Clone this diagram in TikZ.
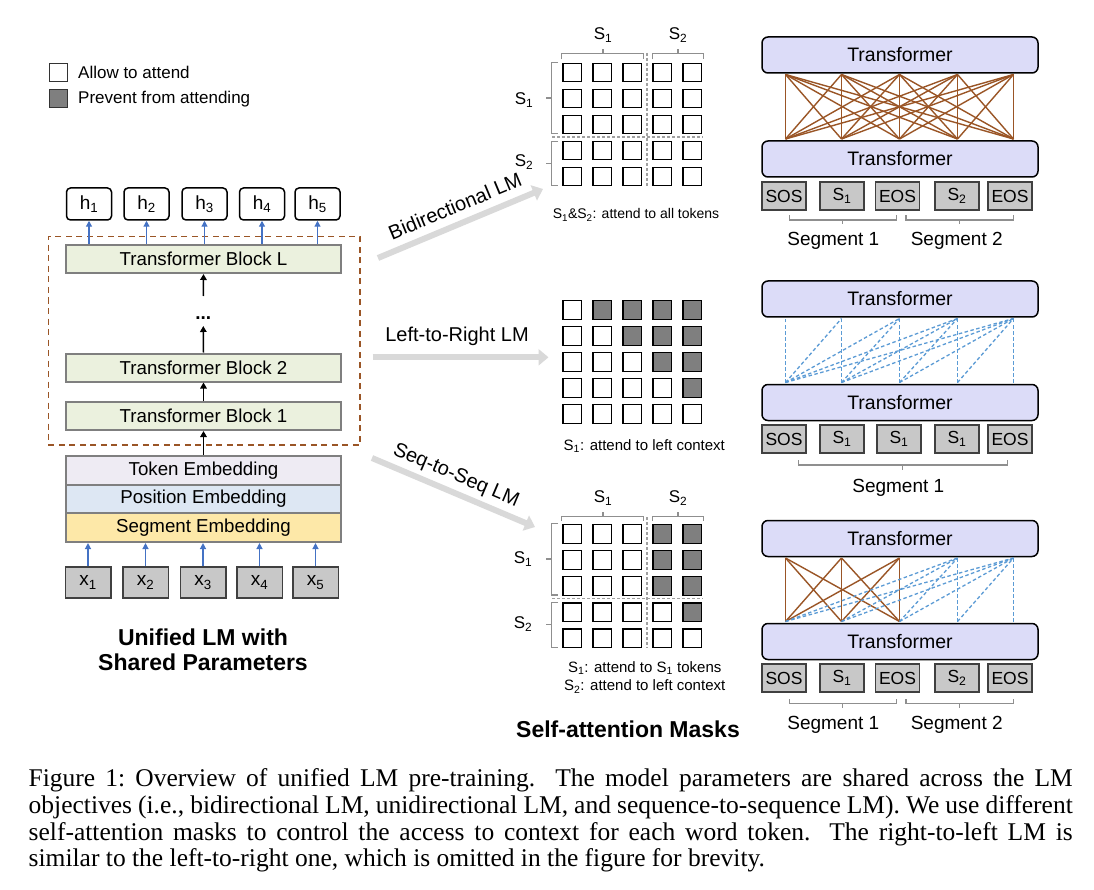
\documentclass[tikz,border=0pt]{standalone}
\usepackage{fontspec}
\setmainfont{Liberation Sans}
\newfontfamily\capfont{Liberation Serif}
\usetikzlibrary{arrows.meta}
\newcommand\fsz[2]{\fontsize{#1}{#2}\selectfont}
\newcommand\sbs[1]{\textsubscript{#1}}
\definecolor{blkfill}{HTML}{EBF1DE}
\definecolor{blkborder}{HTML}{7F7F7F}
\definecolor{tokfill}{HTML}{EEEBF3}
\definecolor{posfill}{HTML}{DDE7F3}
\definecolor{segfill}{HTML}{FDE8A8}
\definecolor{xfill}{HTML}{C8C8C8}
\definecolor{xborder}{HTML}{404040}
\definecolor{tfill}{HTML}{DCDCF8}
\definecolor{brn}{HTML}{9A5526}
\definecolor{bld}{HTML}{5B9BD5}
\definecolor{arrblue}{HTML}{4472C4}
\definecolor{biggray}{HTML}{D9D9D9}
\definecolor{brkgray}{HTML}{8F8F8F}
\definecolor{maskgray}{HTML}{7F7F7F}
\definecolor{sepgray}{HTML}{A0A0A0}
\begin{document}
\begin{tikzpicture}[x=1pt,y=-1pt,
  lsq/.style={draw=black!80, line width=1.2pt, minimum size=18pt, inner sep=0pt},
  txt/.style={inner sep=0pt},
  hbox/.style={draw=black, line width=1.5pt, rounded corners=4pt, minimum width=45pt, minimum height=32pt, inner sep=0pt, font=\fsz{19}{22}},
  xbox/.style={draw=xborder, line width=1.5pt, fill=xfill, minimum width=45.5pt, minimum height=31pt, inner sep=0pt, font=\fsz{19}{22}},
  blk/.style={draw=blkborder, line width=2pt, fill=blkfill, minimum width=275pt, minimum height=28pt, inner sep=0pt, font=\fsz{18.7}{22}},
  emb/.style={draw=blkborder, line width=2pt, minimum width=275pt, minimum height=28.7pt, inner sep=0pt, font=\fsz{18.7}{22}},
  bluearr/.style={draw=arrblue, line width=1.3pt, -{Triangle[length=6pt,width=6pt]}},
  blkarr/.style={draw=black, line width=1.5pt, -{Triangle[length=6pt,width=6.5pt]}},
  frame/.style={draw=brn, line width=1.6pt, dash pattern=on 6pt off 4.5pt},
  bigarr/.style={draw=biggray, line width=6pt, -{Triangle[length=10pt,width=16pt]}},
  albl/.style={inner sep=0pt, font=\fsz{20}{24}},
  cell/.style={draw=black, line width=1.3pt, fill=white, minimum size=18.4pt, inner sep=0pt},
  brk/.style={draw=brkgray, line width=1.3pt},
  sep/.style={draw=sepgray, line width=1.2pt, dash pattern=on 3pt off 2pt},
  slbl/.style={inner sep=0pt, font=\fsz{17}{20}},
  mcap/.style={inner sep=0pt, font=\fsz{15}{18}},
  tbox/.style={draw=black, line width=1.5pt, fill=tfill, rounded corners=6pt, minimum width=276pt, minimum height=36pt, inner sep=0pt, font=\fsz{19.5}{23}},
  tok/.style={draw=xborder, line width=1.5pt, fill=xfill, minimum width=44pt, minimum height=28pt, inner sep=0pt, font=\fsz{17.5}{20}},
  brnl/.style={draw=brn, line width=1.4pt},
  bldl/.style={draw=bld, line width=1.3pt, dash pattern=on 3.5pt off 2.5pt},
  seglbl/.style={inner sep=0pt, font=\fsz{19}{22}},
  ttl/.style={inner sep=0pt, font=\bfseries\fsz{23}{25}, align=center}
]
\path[use as bounding box, fill=white] (0,0) rectangle (1094,890);

% ---------------- legend
\node[lsq, fill=white] (lgA) at (58.5,72.5) {};
\node[txt, anchor=west, font=\fsz{17}{20}] (lgAt) at (78,72.5) {Allow to attend};
\node[lsq, fill=maskgray] (lgB) at (58.5,98.5) {};
\node[txt, anchor=west, font=\fsz{17}{20}] (lgBt) at (78,99.5) {Prevent from attending};

% ---------------- left panel
\node[frame, minimum width=311.7pt, minimum height=208.3pt, inner sep=0pt] (fr) at (204.15,340.85) {};
\foreach \k/\xx in {1/89,2/146.5,3/204.5,4/262,5/317.5}
  \node[hbox] (h\k) at (\xx,204) {h\sbs{\k}};
\node[blk] (bL) at (203.5,259) {Transformer Block L};
\node[blk] (b2) at (203.5,367.5) {Transformer Block 2};
\node[blk] (b1) at (203.5,416) {Transformer Block 1};
\node[txt, font=\bfseries\fsz{19}{22}] (dots) at (203.3,318) {...};
\coordinate (dA) at (203.3,326);
\coordinate (dB) at (203.3,296);
\node[emb, fill=tokfill] (eT) at (203.5,470.3) {Token Embedding};
\node[emb, fill=posfill] (eP) at (203.5,499) {Position Embedding};
\node[emb, fill=segfill] (eS) at (203.5,527.7) {Segment Embedding};
\node[draw=blkborder, line width=2pt, minimum width=275pt, minimum height=86.1pt, inner sep=0pt] (eAll) at (203.5,499) {};
\foreach \k/\xx in {1/88,2/145.5,3/203,4/259.5,5/315.5}
  \node[xbox] (x\k) at (\xx,582.5) {x\sbs{\k}};
\foreach \k in {1,...,5} {
  \draw[bluearr] (x\k.north) -- (x\k.north |- eAll.south);
  \draw[bluearr] (h\k.south |- bL.north) -- (h\k.south);
}
\draw[blkarr] (eAll.north) -- (b1.south);
\draw[blkarr] (b1.north) -- (b2.south);
\draw[blkarr] (b2.north) -- (dA);
\draw[blkarr] (dB) -- (bL.south);
\node[ttl] (t1) at (203,649.5) {Unified LM with\\Shared Parameters};

% ---------------- big gray arrows
\coordinate (aBs) at (378,258);
\coordinate (aBe) at (543,189);
\coordinate (aLs) at (372.5,357.3);
\coordinate (aLe) at (548.5,357.3);
\coordinate (aSs) at (372,458);
\coordinate (aSe) at (535,527);
\draw[bigarr] (aBs) -- (aBe);
\draw[bigarr] (aLs) -- (aLe);
\draw[bigarr] (aSs) -- (aSe);
\node[albl, rotate=22.7] (lbB) at (455,206) {Bidirectional LM};
\node[albl] (lbL) at (457,336.7) {Left-to-Right LM};
\node[albl, rotate=-23] (lbS) at (456,476) {Seq-to-Seq LM};

% ---------------- mask 1 (bidirectional)
\draw[sep] (647,53) -- (647,186);
\draw[sep] (552,137) -- (703.3,137);
\foreach \i/\yy in {1/72.5,2/98.5,3/124.5,4/150.5,5/176.5}
  \foreach \j/\xx in {1/572.3,2/602.3,3/632.3,4/662.3,5/692.3}
    \node[cell] (ga\i\j) at (\xx,\yy) {};
\draw[brk] (561.7,59.3) -- (561.7,53.3) -- (643.3,53.3) -- (643.3,59.3);
\draw[brk] (603,53.3) -- (603,49);
\draw[brk] (652.7,59.3) -- (652.7,53.3) -- (703.3,53.3) -- (703.3,59.3);
\draw[brk] (678,53.3) -- (678,49);
\draw[brk] (558,62.7) -- (551.7,62.7) -- (551.7,133.3) -- (558,133.3);
\draw[brk] (551.7,98) -- (546,98);
\draw[brk] (558,141.7) -- (551.7,141.7) -- (551.7,185.7) -- (558,185.7);
\draw[brk] (551.7,163.7) -- (546,163.7);
\node[slbl] (ma1) at (603,35) {S\sbs{1}};
\node[slbl] (ma2) at (678,35) {S\sbs{2}};
\node[slbl] (ma3) at (524,100) {S\sbs{1}};
\node[slbl] (ma4) at (524,162) {S\sbs{2}};
\node[mcap, font=\fsz{14}{17}] (mac) at (636,215) {S\sbs{1}\&S\sbs{2}: attend to all tokens};

% ---------------- mask 2 (left-to-right)
\foreach \i/\yy in {1/310,2/336,3/362,4/388,5/414}
  \foreach \j/\xx in {1/572.3,2/602.3,3/632.3,4/662.3,5/692.3}
    {\ifnum\j>\i
       \node[cell, fill=maskgray] (gb\i\j) at (\xx,\yy) {};
     \else
       \node[cell] (gb\i\j) at (\xx,\yy) {};
     \fi}
\node[mcap] (mbc) at (644.3,445.7) {S\sbs{1}: attend to left context};

% ---------------- mask 3 (seq-to-seq)
\draw[sep] (647,517) -- (647,647.5);
\draw[sep] (552,598.5) -- (703.3,598.5);
\foreach \i/\yy in {1/534,2/560,3/586,4/612.3,5/638.3}
  \foreach \j/\xx in {1/572.3,2/602.3,3/632.3,4/662.3,5/692.3}
    {\pgfmathtruncatemacro\gg{((\i<4) && (\j>3)) || ((\i==4) && (\j==5))}
     \ifnum\gg=1
       \node[cell, fill=maskgray] (gc\i\j) at (\xx,\yy) {};
     \else
       \node[cell] (gc\i\j) at (\xx,\yy) {};
     \fi}
\draw[brk] (561.7,521) -- (561.7,516.7) -- (643.3,516.7) -- (643.3,521);
\draw[brk] (603,516.7) -- (603,511.5);
\draw[brk] (652.7,521) -- (652.7,516.7) -- (703.3,516.7) -- (703.3,521);
\draw[brk] (678,516.7) -- (678,511.5);
\draw[brk] (558,523.3) -- (551.7,523.3) -- (551.7,595) -- (558,595);
\draw[brk] (551.7,559) -- (546,559);
\draw[brk] (558,602.3) -- (551.7,602.3) -- (551.7,647.3) -- (558,647.3);
\draw[brk] (551.7,624.8) -- (546,624.8);
\node[slbl] (mc1) at (603,498) {S\sbs{1}};
\node[slbl] (mc2) at (678,498) {S\sbs{2}};
\node[slbl] (mc3) at (523,559) {S\sbs{1}};
\node[slbl] (mc4) at (523,624) {S\sbs{2}};
\node[mcap] (mcc1) at (644.7,668.3) {S\sbs{1}: attend to S\sbs{1} tokens};
\node[mcap] (mcc2) at (644.7,686.7) {S\sbs{2}: attend to left context};
\node[ttl] (t2) at (628,729.3) {Self-attention Masks};

% ---------------- right panels
\foreach \p/\ty/\by/\tky in {1/55/159/196, 2/299/402.5/439, 3/538.5/641.5/678} {
  \node[tbox] (Tt\p) at (900,\ty) {Transformer};
  \node[tbox] (Tb\p) at (900,\by) {Transformer};
  \foreach \k/\xx in {1/785.5,2/841.5,3/899.5,4/957.5,5/1013.5} {
    \coordinate (u\p\k) at (\xx,\ty+19.5);
    \coordinate (d\p\k) at (\xx,\by-20);
  }
}
% panel 1 tokens
\node[tok] (k11) at (784,196) {SOS};
\node[tok] (k12) at (842,196) {S\sbs{1}};
\node[tok] (k13) at (897.5,196) {EOS};
\node[tok] (k14) at (957,196) {S\sbs{2}};
\node[tok] (k15) at (1010,196) {EOS};
% panel 2 tokens
\node[tok] (k21) at (784,439) {SOS};
\node[tok] (k22) at (842,439) {S\sbs{1}};
\node[tok] (k23) at (899,439) {S\sbs{1}};
\node[tok] (k24) at (957,439) {S\sbs{1}};
\node[tok] (k25) at (1010,439) {EOS};
% panel 3 tokens
\node[tok] (k31) at (784,678) {SOS};
\node[tok] (k32) at (842,678) {S\sbs{1}};
\node[tok] (k33) at (897.5,678) {EOS};
\node[tok] (k34) at (957,678) {S\sbs{2}};
\node[tok] (k35) at (1010,678) {EOS};

% panel 1 connections: all to all
\foreach \i in {1,...,5}
  \foreach \j in {1,...,5}
    \draw[brnl] (d1\i) -- (u1\j);
% panel 2: left to right
\foreach \i in {1,...,5}
  \foreach \j in {1,...,5}
    {\ifnum\j<\i\else \draw[bldl] (d2\i) -- (u2\j);\fi}
% panel 3: seq-to-seq
\foreach \i in {1,2,3}
  \foreach \j in {1,2,3}
    \draw[brnl] (d3\i) -- (u3\j);
\foreach \i in {1,...,5}
  \foreach \j in {4,5}
    {\ifnum\j<\i\else \draw[bldl] (d3\i) -- (u3\j);\fi}

% brackets right
\draw[brk] (789.3,215.5) -- (789.3,220) -- (896.7,220) -- (896.7,215.5);
\draw[brk] (842.7,220) -- (842.7,224.5);
\draw[brk] (906,215.5) -- (906,220) -- (1013.3,220) -- (1013.3,215.5);
\draw[brk] (959.3,220) -- (959.3,224.5);
\node[seglbl] (sg11) at (833.3,240.7) {Segment 1};
\node[seglbl] (sg12) at (956.7,240.7) {Segment 2};

\draw[brk] (798.3,460) -- (798.3,465) -- (1007.3,465) -- (1007.3,460);
\draw[brk] (902.7,465) -- (902.7,470);
\node[seglbl] (sg21) at (898.3,488.3) {Segment 1};

\draw[brk] (789.3,699) -- (789.3,703.3) -- (896.7,703.3) -- (896.7,699);
\draw[brk] (842.7,703.3) -- (842.7,707.5);
\draw[brk] (906,699) -- (906,703.3) -- (1013.3,703.3) -- (1013.3,699);
\draw[brk] (959.3,703.3) -- (959.3,707.5);
\node[seglbl] (sg31) at (833.3,725) {Segment 1};
\node[seglbl] (sg32) at (956.7,725) {Segment 2};

% ---------------- caption
\node[anchor=north west, inner sep=0pt, text width=1044pt, align=justify,
      font=\capfont\fsz{25.5}{26.7}] (cap) at (28.5,768.5)
 {Figure 1:\ Overview of unified LM pre-training.  The model parameters are shared across the LM\linebreak
  objectives (i.e., bidirectional LM, unidirectional LM, and sequence-to-sequence LM). We use different\linebreak
  self-attention masks to control the access to context for each word token.  The right-to-left LM is\linebreak
  similar to the left-to-right one, which is omitted in the figure for brevity.};
\end{tikzpicture}
\end{document}
